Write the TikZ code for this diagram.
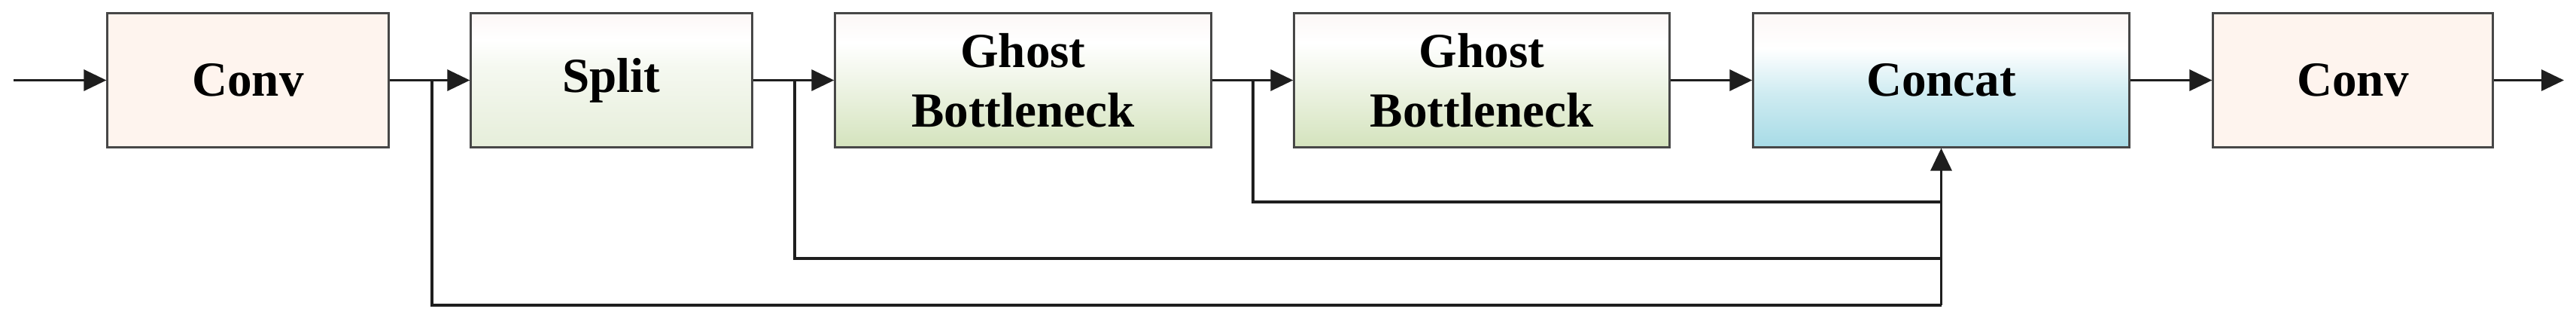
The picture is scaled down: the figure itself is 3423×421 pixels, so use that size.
\documentclass[tikz,border=0pt]{standalone}
\usepackage{fontspec}
\setmainfont{Liberation Serif}
\usetikzlibrary{arrows.meta}
\definecolor{convfill}{HTML}{FEF4EE}
\definecolor{ctop}{HTML}{FCF7F6}
\definecolor{splitbot}{HTML}{E6EEDA}
\definecolor{gbbot}{HTML}{D4E3BD}
\definecolor{concatbot}{HTML}{A7DBE6}
\definecolor{linecol}{HTML}{1E1E1E}
\pgfdeclareverticalshading{splitsh}{100bp}{color(0bp)=(splitbot); color(25bp)=(splitbot); color(55bp)=(white!60!splitbot); color(65bp)=(white); color(75bp)=(ctop); color(100bp)=(ctop)}
\pgfdeclareverticalshading{gbsh}{100bp}{color(0bp)=(gbbot); color(25bp)=(gbbot); color(50bp)=(white!65!gbbot); color(64bp)=(white); color(75bp)=(ctop); color(100bp)=(ctop)}
\pgfdeclareverticalshading{concatsh}{100bp}{color(0bp)=(concatbot); color(25bp)=(concatbot); color(45bp)=(white!45!concatbot); color(62bp)=(white); color(75bp)=(ctop); color(100bp)=(ctop)}
\begin{document}
\begin{tikzpicture}[x=0.01cm,y=-0.01cm,
  blk/.style={draw=black!72, line width=0.03cm, minimum height=1.77cm, inner sep=0pt,
    font=\fontsize{18.5}{22.5}\selectfont\bfseries, align=center,
    append after command={[draw=black!50, line width=0.05cm]
      (\tikzlastnode.south west) -- (\tikzlastnode.south east)}},
  ln/.style={draw=linecol, line width=0.032cm},
  arr/.style={ln, -{Triangle[length=0.3cm,width=0.28cm]}}]
\useasboundingbox (0,0) rectangle (3423,421);
\node[blk, fill=convfill, minimum width=3.73cm] (conv1) at (329.5,106.5) {Conv};
\node[blk, shading=splitsh, minimum width=3.73cm] (split) at (812.5,106.5) {Split};
\node[blk, shading=gbsh, minimum width=4.99cm] (gb1) at (1359.5,106.5) {Ghost\\Bottleneck};
\node[blk, shading=gbsh, minimum width=4.98cm] (gb2) at (1969,106.5) {Ghost\\Bottleneck};
\node[blk, shading=concatsh, minimum width=4.99cm] (concat) at (2579.5,106.5) {Concat};
\node[blk, fill=convfill, minimum width=3.71cm] (conv2) at (3126.5,106.5) {Conv};
\coordinate (in) at (18,106.5);
\coordinate (out) at (3407,106.5);
\coordinate (b1) at (574,106.5);
\coordinate (b2) at (1056,106.5);
\coordinate (b3) at (1665,106.5);
\coordinate (c1) at (2579.5,405);
\coordinate (c2) at (2579.5,343);
\coordinate (c3) at (2579.5,268);
\draw[arr] (in) -- (conv1);
\draw[arr] (conv1) -- (split);
\draw[arr] (split) -- (gb1);
\draw[arr] (gb1) -- (gb2);
\draw[arr] (gb2) -- (concat);
\draw[arr] (concat) -- (conv2);
\draw[arr] (conv2) -- (out);
\draw[ln] (b1) |- (c1);
\draw[ln] (b2) |- (c2);
\draw[ln] (b3) |- (c3);
\draw[arr] (c1) -- (concat.south);
\end{tikzpicture}
\end{document}
